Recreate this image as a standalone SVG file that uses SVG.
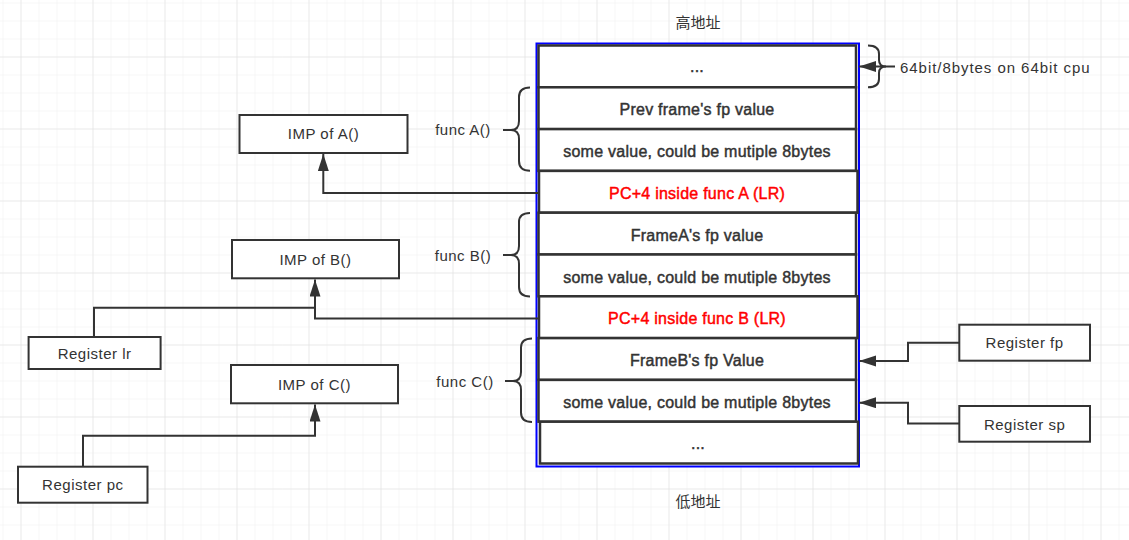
<svg xmlns="http://www.w3.org/2000/svg" width="1129" height="540" viewBox="0 0 1129 540">
<defs>
<pattern id="gmin" patternUnits="userSpaceOnUse" x="2.5" y="2.5" width="18" height="18"><path d="M0,0 H18 M0,0 V18" stroke="#efefef" stroke-width="1" fill="none"/></pattern>
<pattern id="gmajx" patternUnits="userSpaceOnUse" x="20.5" y="0" width="72" height="540"><path d="M0,0 V540" stroke="#e0e0e0" stroke-width="1" fill="none"/></pattern>
<pattern id="gmajy" patternUnits="userSpaceOnUse" x="0" y="56.5" width="1129" height="72"><path d="M0,0 H1129" stroke="#e0e0e0" stroke-width="1" fill="none"/></pattern>
<marker id="arr" markerUnits="userSpaceOnUse" markerWidth="18" markerHeight="12" refX="17" refY="5.5" orient="auto"><path d="M0,0 L17,5.5 L0,11 Z" fill="#333"/></marker>
<style>
.box{fill:#fff;stroke:#333;stroke-width:2}
.cell{fill:#fff;stroke:#333;stroke-width:2.5}
.t{font-family:"Liberation Sans",Arial,sans-serif;font-size:15px;fill:#333;letter-spacing:0.5px;text-anchor:middle}
.b{font-family:"Liberation Sans",Arial,sans-serif;font-size:16px;fill:#333;stroke:#333;stroke-width:0.45px;letter-spacing:0.25px;text-anchor:middle}
.red{fill:#ff0000;stroke:#ff0000}
.cjk{font-family:"Noto Sans CJK SC",sans-serif;font-size:15px;fill:#333;text-anchor:middle}
.ln{fill:none;stroke:#333;stroke-width:2}
</style>
</defs>
<rect width="1129" height="540" fill="#fff"/>
<rect width="1129" height="540" fill="url(#gmin)"/>
<rect width="1129" height="540" fill="url(#gmajx)"/>
<rect width="1129" height="540" fill="url(#gmajy)"/>

<text class="cjk" x="698" y="28">高地址</text>
<text class="cjk" x="698" y="507">低地址</text>

<g id="stack">
<rect x="536.5" y="43.5" width="322.5" height="423" fill="#fff" stroke="#0000ff" stroke-width="2"/>
<rect class="cell" x="538.5" y="45.5" width="317.5" height="41.8"/>
<rect class="cell" x="538.5" y="87.3" width="317.5" height="41.8"/>
<rect class="cell" x="538.5" y="129.1" width="317.5" height="41.8"/>
<rect class="cell" x="539" y="170.9" width="318.5" height="41.8"/>
<rect class="cell" x="538.5" y="212.7" width="317.5" height="41.8"/>
<rect class="cell" x="538.5" y="254.5" width="317.5" height="41.8"/>
<rect class="cell" x="539" y="296.3" width="318.5" height="41.8"/>
<rect class="cell" x="538.5" y="338.1" width="317.5" height="41.8"/>
<rect class="cell" x="538.5" y="379.9" width="317.5" height="41.8"/>
<rect class="cell" x="540" y="421.7" width="318" height="41.8"/>
<text class="b" x="697" y="72">...</text>
<text class="b" x="697" y="115">Prev frame's fp value</text>
<text class="b" x="697" y="157">some value, could be mutiple 8bytes</text>
<text class="b red" x="697" y="198.5">PC+4 inside func A (LR)</text>
<text class="b" x="697" y="240.5">FrameA's fp value</text>
<text class="b" x="697" y="282.5">some value, could be mutiple 8bytes</text>
<text class="b red" x="697" y="324">PC+4 inside func B (LR)</text>
<text class="b" x="697" y="366">FrameB's fp Value</text>
<text class="b" x="697" y="408">some value, could be mutiple 8bytes</text>
<text class="b" x="698" y="449">...</text>
</g>

<g id="brace-size">
<path class="ln" d="M868,45.5 Q879,45.5 879,54 L879,60 Q879,66.5 886,66.5 Q879,66.5 879,73 L879,79 Q879,87.3 868,87.3"/>
<text class="t" x="900" y="72.5" style="text-anchor:start;letter-spacing:0.95px">64bit/8bytes on 64bit cpu</text>
</g>

<g id="brace-a">
<path class="ln" d="M530,87.5 Q519,87.5 519,97 L519,121 Q519,130 511,130 L503,130 M511,130 Q519,130 519,139 L519,161 Q519,170.7 530,170.7"/>
<text class="t" x="463" y="135">func A()</text>
</g>
<g id="brace-b">
<path class="ln" d="M530,213 Q519,213 519,222 L519,246 Q519,255 511,255 L503,255 M511,255 Q519,255 519,264 L519,287 Q519,296.5 530,296.5"/>
<text class="t" x="463" y="261">func B()</text>
</g>
<g id="brace-c">
<path class="ln" d="M532,338.5 Q521,338.5 521,347.5 L521,372 Q521,381 513,381 L505,381 M513,381 Q521,381 521,390 L521,412.5 Q521,422 532,422"/>
<text class="t" x="465" y="387">func C()</text>
</g>

<g id="imp-a"><rect class="box" x="239.5" y="115" width="168" height="38"/><text class="t" x="323.5" y="139">IMP of A()</text></g>
<g id="imp-b"><rect class="box" x="232" y="240" width="167" height="38.3"/><text class="t" x="315.5" y="264.5">IMP of B()</text></g>
<g id="imp-c"><rect class="box" x="231" y="365" width="167" height="38.3"/><text class="t" x="314.5" y="389.5">IMP of C()</text></g>
<g id="reg-lr"><rect class="box" x="28.6" y="337" width="132" height="32"/><text class="t" x="94.6" y="358.5">Register lr</text></g>
<g id="reg-pc"><rect class="box" x="18" y="466.7" width="129.5" height="36"/><text class="t" x="82.8" y="490">Register pc</text></g>
<g id="reg-fp"><rect class="box" x="959.3" y="324.7" width="130.7" height="36"/><text class="t" x="1024.6" y="348">Register fp</text></g>
<g id="reg-sp"><rect class="box" x="959.3" y="406" width="130.7" height="35.7"/><text class="t" x="1024.6" y="429.5">Register sp</text></g>

<g id="connectors">
<path class="ln" d="M895,66.5 H859" marker-end="url(#arr)"/>
<path class="ln" d="M538,193 H323.3 V154" marker-end="url(#arr)"/>
<path class="ln" d="M538,318.5 H315 V279.5" marker-end="url(#arr)"/>
<path class="ln" d="M94,337 V307.7 H315"/>
<path class="ln" d="M83,466.7 V435.7 H315 V404.5" marker-end="url(#arr)"/>
<path class="ln" d="M959.3,342.7 H908 V361 H859" marker-end="url(#arr)"/>
<path class="ln" d="M959.3,423.5 H908 V402.7 H859" marker-end="url(#arr)"/>
</g>
</svg>
